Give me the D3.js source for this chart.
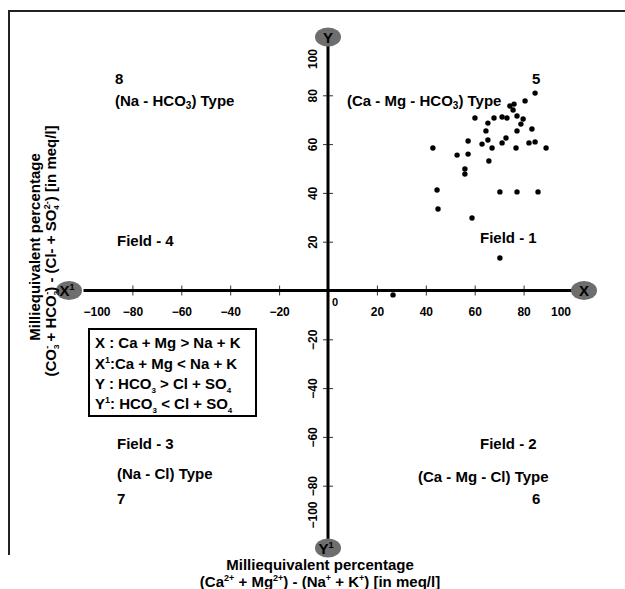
<!DOCTYPE html>
<html>
<head>
<meta charset="utf-8">
<script src="https://cdn.jsdelivr.net/npm/d3@7"></script>
<style>
  body { margin: 0; background: #fff; }
  text { font-family: "Liberation Sans", Arial, sans-serif; font-weight: bold; fill: #000; }
</style>
</head>
<body>
<svg width="625" height="589"></svg>
<script>
// cation difference (Ca+Mg)-(Na+K), meq %
var xVals = [84.7, 80.6, 76.1, 74.4, 75.7, 77.3, 73.2, 71.2, 67.9, 60.1,
             79.8, 78.9, 65.4, 83.4, 77.3, 64.6, 57.3, 65.4, 72.8, 71.2,
             63.0, 67.1, 76.9, 82.2, 84.7, 89.2, 42.9, 52.8, 57.3, 65.8,
             56.0, 56.0, 44.6, 70.3, 77.3, 85.9, 45.0, 58.9, 70.3, 26.6];
// anion difference (CO3+HCO3)-(Cl+SO4), meq %
var yVals = [80.9, 77.7, 76.4, 75.6, 74.0, 71.5, 70.7, 71.1, 70.7, 70.7,
             70.3, 68.2, 68.6, 66.2, 65.4, 65.4, 61.3, 61.7, 62.5, 60.5,
             60.0, 58.4, 58.4, 60.5, 60.9, 58.4, 58.4, 55.5, 55.9, 53.1,
             49.8, 47.7, 41.2, 40.4, 40.4, 40.4, 33.4, 29.7, 13.3, -1.8];

var tickVals = [-100, -80, -60, -40, -20, 20, 40, 60, 80, 100];

var svg = d3.select("svg");

var x = d3.scaleLinear().domain([-100, 100]).range([83.5, 572.5]);
var y = d3.scaleLinear().domain([-100, 100]).range([534.5, 46.5]);
var x0 = x(0), y0 = y(0);

// frame
svg.append("path")
    .attr("d", "M9,555V11H625")
    .attr("fill", "none")
    .attr("stroke", "#222")
    .attr("stroke-width", 2);

// axis ticks and labels
var xAxis = svg.append("g")
    .attr("transform", "translate(0," + (y0 - 5) + ")")
    .call(d3.axisBottom(x).tickValues(tickVals).tickSize(10).tickPadding(12));
xAxis.select(".domain").remove();
xAxis.selectAll(".tick line").attr("stroke", "#333")
    .attr("display", function (d) { return Math.abs(d) == 100 ? "none" : null; });
xAxis.selectAll(".tick text")
    .attr("font-size", 12)
    .attr("font-family", null)
    .attr("dx", function (d) { return d == 100 ? -12 : d == -100 ? 13 : 0; });

var yAxis = svg.append("g")
    .attr("transform", "translate(" + (x0 + 5) + ",0)")
    .call(d3.axisLeft(y).tickValues(tickVals).tickSize(10));
yAxis.select(".domain").remove();
yAxis.selectAll(".tick line").attr("stroke", "#333")
    .attr("display", function (d) { return Math.abs(d) == 100 ? "none" : null; });
yAxis.selectAll(".tick text")
    .attr("font-size", 12)
    .attr("font-family", null)
    .attr("x", 0).attr("dy", 0)
    .attr("text-anchor", "middle")
    .attr("transform", function (d) {
        var s = d == 100 ? 12 : d == -100 ? -20 : 0;
        return "translate(-16.5," + s + ") rotate(-90)";
    });

// main axis lines
svg.append("line")
    .attr("x1", x(-100)).attr("x2", x(100))
    .attr("y1", y0).attr("y2", y0)
    .attr("stroke", "#000").attr("stroke-width", 3);
svg.append("line")
    .attr("x1", x0).attr("x2", x0)
    .attr("y1", y(100) - 4).attr("y2", y(-100) + 6)
    .attr("stroke", "#000").attr("stroke-width", 3);

svg.append("text").attr("x", x0 + 4).attr("y", y0 + 15)
    .attr("font-size", 11).text("0");

// end badges
var badges = [
    { cx: 69, cy: y0, t: "X", sup: "1" },
    { cx: 584, cy: y0, t: "X", sup: "" },
    { cx: x0, cy: 37, t: "Y", sup: "" },
    { cx: x0, cy: 548, t: "Y", sup: "1" }
];
badges.forEach(function (b) {
    svg.append("ellipse")
        .attr("cx", b.cx).attr("cy", b.cy)
        .attr("rx", 13).attr("ry", 9.5)
        .attr("fill", "#6e6e6e");
    var t = svg.append("text")
        .attr("x", b.cx - (b.sup ? 2 : 0)).attr("y", b.cy + 5.5)
        .attr("text-anchor", "middle")
        .attr("font-size", 15);
    t.append("tspan").text(b.t);
    if (b.sup) t.append("tspan").attr("font-size", 9).attr("dy", -6).text(b.sup);
});

// data points
svg.append("g").selectAll("circle")
    .data(xVals)
    .enter().append("circle")
    .attr("cx", function (d) { return x(d); })
    .attr("cy", function (d, i) { return y(yVals[i]); })
    .attr("r", 2.7)
    .attr("fill", "#000");

// quadrant annotations
function rich(sel, parts) {
    parts.forEach(function (p) {
        var ts = sel.append("tspan").text(p[0]);
        if (p[1] == "sub") ts.attr("font-size", 10).attr("dy", 3);
        if (p[1] == "back") ts.attr("dy", -3);
    });
}
function label(px, py, parts) {
    var t = svg.append("text").attr("x", px).attr("y", py).attr("font-size", 15);
    rich(t, parts);
    return t;
}
label(115, 84, [["8"]]);
label(115, 106, [["(Na - HCO"], ["3", "sub"], [") Type", "back"]]);
label(532, 84, [["5"]]);
label(347, 106, [["(Ca - Mg - HCO"], ["3", "sub"], [") Type", "back"]]);
label(117, 246, [["Field - 4"]]);
label(480, 243, [["Field - 1"]]);
label(117, 449, [["Field - 3"]]);
label(117, 479, [["(Na - Cl) Type"]]);
label(117, 504, [["7"]]);
label(480, 449, [["Field - 2"]]);
label(418, 482, [["(Ca - Mg - Cl) Type"]]);
label(532, 504, [["6"]]);

// legend box
svg.append("rect")
    .attr("x", 89).attr("y", 329).attr("width", 167).attr("height", 87)
    .attr("fill", "none").attr("stroke", "#000").attr("stroke-width", 2);
function legLine(py, parts) {
    var t = svg.append("text").attr("x", 95).attr("y", py).attr("font-size", 15);
    parts.forEach(function (p) {
        var ts = t.append("tspan").text(p[0]);
        if (p[1] == "sup") ts.attr("font-size", 9).attr("dy", -6);
        if (p[1] == "sup-back") ts.attr("dy", 6);
        if (p[1] == "sub") ts.attr("font-size", 8).attr("dy", 4);
        if (p[1] == "sub-back") ts.attr("dy", -4);
    });
}
legLine(348, [["X : Ca + Mg > Na + K"]]);
legLine(369, [["X"], ["1", "sup"], [":Ca + Mg < Na + K", "sup-back"]]);
legLine(389, [["Y : HCO"], ["3", "sub"], [" > Cl + SO", "sub-back"], ["4", "sub"]]);
legLine(409, [["Y"], ["1", "sup"], [": HCO", "sup-back"], ["3", "sub"], [" < Cl + SO", "sub-back"], ["4", "sub"]]);

// axis titles
svg.append("text")
    .attr("x", 320).attr("y", 570)
    .attr("text-anchor", "middle").attr("font-size", 15)
    .text("Milliequivalent percentage");
var bt = svg.append("text")
    .attr("x", 320).attr("y", 587)
    .attr("text-anchor", "middle").attr("font-size", 15);
bt.append("tspan").text("(Ca");
bt.append("tspan").attr("font-size", 9).attr("dy", -6).text("2+");
bt.append("tspan").attr("dy", 6).text(" + Mg");
bt.append("tspan").attr("font-size", 9).attr("dy", -6).text("2+");
bt.append("tspan").attr("dy", 6).text(") - (Na");
bt.append("tspan").attr("font-size", 9).attr("dy", -6).text("+");
bt.append("tspan").attr("dy", 6).text(" + K");
bt.append("tspan").attr("font-size", 9).attr("dy", -6).text("+");
bt.append("tspan").attr("dy", 6).text(") [in meq/l]");

svg.append("text")
    .attr("transform", "translate(40,247) rotate(-90)")
    .attr("text-anchor", "middle").attr("font-size", 15)
    .text("Milliequivalent percentage");
var lt = svg.append("text")
    .attr("transform", "translate(56,251) rotate(-90)")
    .attr("text-anchor", "middle").attr("font-size", 15);
lt.append("tspan").text("(CO");
lt.append("tspan").attr("font-size", 8).attr("dy", 3).text("3");
lt.append("tspan").attr("font-size", 9).attr("dx", -4).attr("dy", -9).text("-");
lt.append("tspan").attr("dy", 6).text(" + HCO");
lt.append("tspan").attr("font-size", 8).attr("dy", 3).text("3");
lt.append("tspan").attr("font-size", 9).attr("dx", -4).attr("dy", -9).text("-");
lt.append("tspan").attr("dy", 6).text(") - (Cl- + SO");
lt.append("tspan").attr("font-size", 8).attr("dy", 3).text("4");
lt.append("tspan").attr("font-size", 9).attr("dx", -4).attr("dy", -9).text("2-");
lt.append("tspan").attr("dy", 6).text(") [in meq/l]");
</script>
</body>
</html>
